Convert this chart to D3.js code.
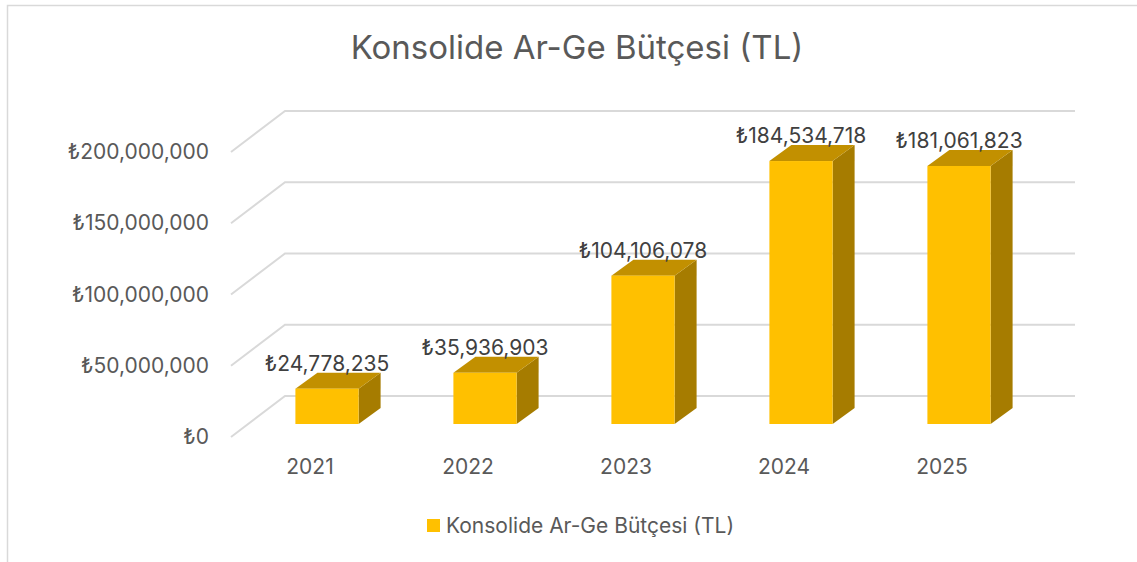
<!DOCTYPE html>
<html>
<head>
<meta charset="utf-8">
<script src="https://cdn.jsdelivr.net/npm/d3@7"></script>
<style>
  body { margin: 0; background: #fff; }
  svg { display: block; }
  text { font-family: Inter, "Open Sans", sans-serif; }
</style>
</head>
<body>
<div id="chart"></div>
<script>
// chart data
const years = ["2021", "2022", "2023", "2024", "2025"];
const budget = [24778235, 35936903, 104106078, 184534718, 181061823];
const yTicks = [0, 50000000, 100000000, 150000000, 200000000];
const chartTitle = "Konsolide Ar-Ge Bütçesi (TL)";
const seriesName = "Konsolide Ar-Ge Bütçesi (TL)";

var width = 1137, height = 562;
var labelFont = "Inter, 'Open Sans', sans-serif";

var svg = d3.select("#chart")
    .append("svg")
    .attr("width", width)
    .attr("height", height);

// outer chart border
svg.append("rect")
    .attr("x", 7.5).attr("y", 5.5)
    .attr("width", width).attr("height", height)
    .attr("fill", "none")
    .attr("stroke", "#d9d9d9")
    .attr("stroke-width", 1.5);

// 3d depth of the back wall
var depth = {dx: 54, dy: -41};
// where the bar sits inside the depth, and how deep it is
var barOff = {dx: 17, dy: -13};
var barDepth = {dx: 22, dy: -16};

var xScale = d3.scaleBand()
    .domain(years)
    .range([231, 1021])
    .paddingInner(0)
    .paddingOuter(0);

var yScale = d3.scaleLinear()
    .domain([0, 200000000])
    .range([437, 152]);

var money = function(v) { return "\u20BA" + d3.format(",")(v); };

// title
svg.append("text")
    .attr("x", 577)
    .attr("y", 59)
    .attr("text-anchor", "middle")
    .attr("fill", "#595959")
    .style("font-size", "33px")
    .text(chartTitle);

// gridlines: diagonal on the side wall + horizontal on back wall
var grid = svg.append("g");
yTicks.forEach(function(t) {
    var y0 = yScale(t);
    grid.append("path")
        .attr("d", "M" + xScale.range()[0] + "," + y0 +
                   "L" + (xScale.range()[0] + depth.dx) + "," + (y0 + depth.dy) +
                   "L" + (xScale.range()[1] + depth.dx) + "," + (y0 + depth.dy))
        .attr("fill", "none")
        .attr("stroke", "#d9d9d9")
        .attr("stroke-width", 2);
});

// y axis labels (no axis line, just text)
var yAxis = d3.axisLeft(yScale)
    .tickValues(yTicks)
    .tickSize(0)
    .tickPadding(22)
    .tickFormat(money);
var yG = svg.append("g")
    .attr("transform", "translate(" + xScale.range()[0] + ",0)")
    .call(yAxis);
yG.select(".domain").remove();
yG.selectAll("text")
    .attr("fill", "#595959")
    .style("font-size", "21px")
    .style("font-family", labelFont);

// x axis labels
var xAxis = d3.axisBottom(xScale).tickSize(0).tickPadding(22);
var xG = svg.append("g")
    .attr("transform", "translate(0," + yScale(0) + ")")
    .call(xAxis);
xG.select(".domain").remove();
xG.selectAll("text")
    .attr("fill", "#595959")
    .style("font-size", "21px")
    .style("font-family", labelFont);

// bars drawn as 3d boxes
var bw = xScale.bandwidth() * 0.4;
var bars = svg.selectAll(".bar")
    .data(budget)
    .enter()
    .append("g")
    .attr("class", "bar");

function fx(d, i) { return xScale(years[i]) + xScale.bandwidth() / 2 - bw / 2 + barOff.dx; }
function fy0() { return yScale(0) + barOff.dy; }
function fy1(d) { return yScale(d) + barOff.dy; }

// side face
bars.append("path")
    .attr("d", function(d, i) {
        var x1 = fx(d, i) + bw;
        return "M" + x1 + "," + fy0() +
               "L" + (x1 + barDepth.dx) + "," + (fy0() + barDepth.dy) +
               "L" + (x1 + barDepth.dx) + "," + (fy1(d) + barDepth.dy) +
               "L" + x1 + "," + fy1(d) + "Z";
    })
    .attr("fill", "#a67c00");

// top face
bars.append("path")
    .attr("d", function(d, i) {
        var x0 = fx(d, i), x1 = x0 + bw, y = fy1(d);
        return "M" + x0 + "," + y +
               "L" + (x0 + barDepth.dx) + "," + (y + barDepth.dy) +
               "L" + (x1 + barDepth.dx) + "," + (y + barDepth.dy) +
               "L" + x1 + "," + y + "Z";
    })
    .attr("fill", "#c29000");

// front face
bars.append("rect")
    .attr("x", function(d, i) { return fx(d, i); })
    .attr("y", function(d) { return fy1(d); })
    .attr("width", bw)
    .attr("height", function(d) { return fy0() - fy1(d); })
    .attr("fill", "#ffc000");

// value labels
bars.append("text")
    .attr("x", function(d, i) { return fx(d, i) + bw / 2; })
    .attr("y", function(d) { return fy1(d) + barDepth.dy - 2; })
    .attr("text-anchor", "middle")
    .attr("fill", "#404040")
    .style("font-size", "21px")
    .text(function(d) { return money(d); });

// legend
var legend = svg.append("g").attr("transform", "translate(427,519)");
legend.append("rect")
    .attr("width", 13).attr("height", 13)
    .attr("fill", "#ffc000");
legend.append("text")
    .attr("x", 19)
    .attr("y", 14)
    .attr("fill", "#595959")
    .style("font-size", "21px")
    .text(seriesName);
</script>
</body>
</html>
